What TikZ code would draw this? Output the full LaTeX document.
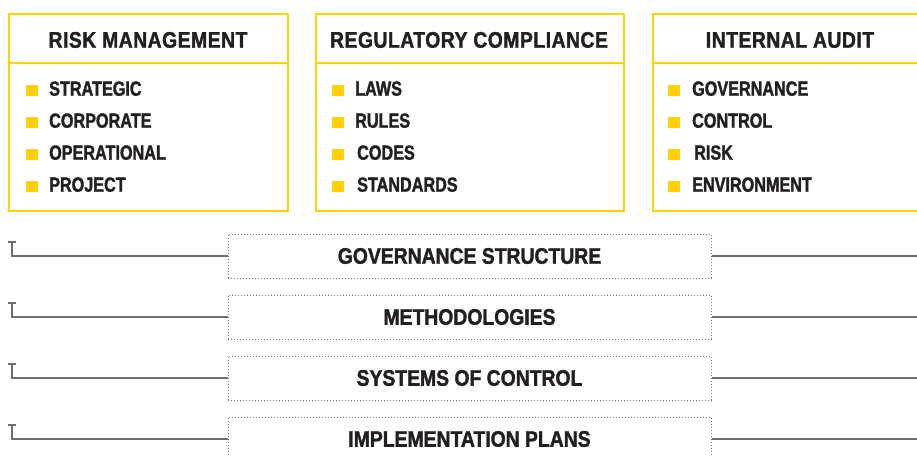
\documentclass[tikz,border=0pt]{standalone}
\usepackage{fontspec}
\setmainfont{Liberation Sans}
\newfontfamily\headfont[FakeStretch=0.86,FakeBold=1.6]{Liberation Sans Bold}
\newfontfamily\panelheadfont[FakeStretch=0.86,FakeBold=1.6,LetterSpace=2.2]{Liberation Sans Bold}
\newfontfamily\itemfont[FakeStretch=0.79,FakeBold=1.6]{Liberation Sans Bold}
\definecolor{gold}{HTML}{FFD200}
\definecolor{ink}{HTML}{231F20}
\definecolor{wire}{HTML}{6D6E71}
\definecolor{dots}{HTML}{7A7A7A}
\tikzset{
  panel/.style={draw=gold, line width=2.4pt, inner sep=0pt, anchor=north west},
  panelrule/.style={draw=gold, line width=2.4pt},
  heading/.style={text=ink, inner sep=0pt, anchor=base, font=\panelheadfont\fontsize{22.5}{25}\selectfont},
  entry/.style={text=ink, inner sep=0pt, anchor=base west, font=\itemfont\fontsize{20.5}{23}\selectfont},
  bulletbox/.style={fill=gold, inner sep=0pt, minimum width=12pt, minimum height=11pt, anchor=south west},
  layer/.style={draw=dots, dotted, line width=1pt, minimum width=483pt, minimum height=44pt, inner sep=0pt,
    text=ink, font=\headfont\fontsize{22.5}{25}\selectfont},
  wireline/.style={draw=wire, line width=1.6pt},
}
\begin{document}
\begin{tikzpicture}[x=1pt,y=-1pt]
\useasboundingbox (0,0) rectangle (917,455);
\clip (0,0) rectangle (917,455);

% --- the three discipline panels ---
\node[panel, minimum width=279pt, minimum height=197pt] (rm) at (8,13) {};
\node[panel, minimum width=308pt, minimum height=197pt] (rc) at (315,13) {};
\node[panel, minimum width=276pt, minimum height=197pt] (ia) at (652,13) {};
\foreach \p in {rm,rc,ia}
  \draw[panelrule] (\p.north west |- 0,63) -- (\p.north east |- 0,63);

\node[heading] (rmt) at (148,47.7) {RISK MANAGEMENT};
\node[heading] (rct) at (469,47.7) {REGULATORY COMPLIANCE};
\node[heading] (iat) at (790,47.7) {INTERNAL AUDIT};

\foreach \txt/\tx [count=\k] in {STRATEGIC/49,CORPORATE/49,OPERATIONAL/49,PROJECT/49} {
  \node[bulletbox] (rmb\k) at (26,{95.7+32*(\k-1)}) {};
  \node[entry] (rmi\k) at (\tx,{95.7+32*(\k-1)}) {\txt};
}
\foreach \txt/\tx [count=\k] in {LAWS/355,RULES/355,CODES/357,STANDARDS/357} {
  \node[bulletbox] (rcb\k) at (332,{95.7+32*(\k-1)}) {};
  \node[entry] (rci\k) at (\tx,{95.7+32*(\k-1)}) {\txt};
}
\foreach \txt/\tx [count=\k] in {GOVERNANCE/692,CONTROL/692,RISK/694,ENVIRONMENT/692} {
  \node[bulletbox] (iab\k) at (668,{95.7+32*(\k-1)}) {};
  \node[entry] (iai\k) at (\tx,{95.7+32*(\k-1)}) {\txt};
}

% --- the four dotted layers with their connectors ---
\foreach \nm/\yy/\lbl in {gs/256/GOVERNANCE STRUCTURE, me/317/METHODOLOGIES,
                          sc/378/SYSTEMS OF CONTROL, ip/439/IMPLEMENTATION PLANS} {
  \node[layer] (\nm) at (469.5,\yy) {\lbl};
  \coordinate (\nm-stem) at (12,\yy-14);
  \coordinate (\nm-capl) at (8,\yy-14);
  \coordinate (\nm-capr) at (16,\yy-14);
  \coordinate (\nm-end) at (917,\yy);
  \draw[wireline] (\nm.west) -| (\nm-stem);
  \draw[wireline] (\nm-capl) -- (\nm-capr);
  \draw[wireline] (\nm.east) -- (\nm-end);
}
\end{tikzpicture}
\end{document}
